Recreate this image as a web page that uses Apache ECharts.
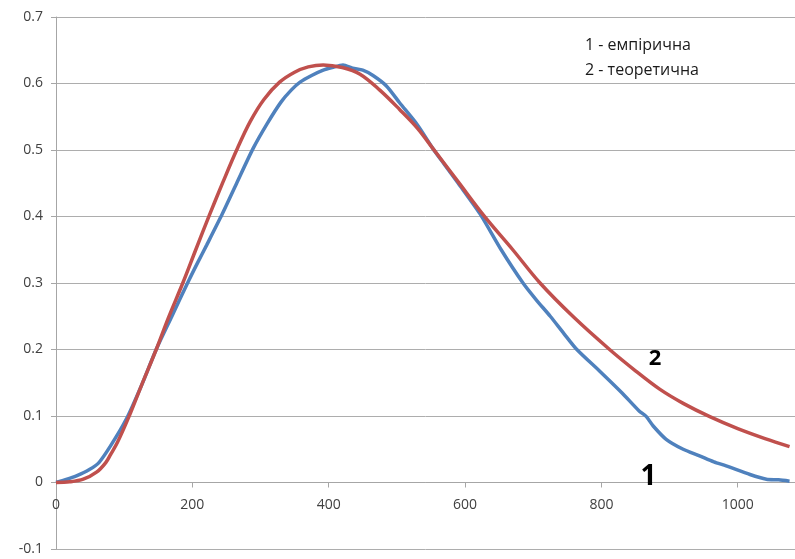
<!DOCTYPE html>
<html>
<head>
<meta charset="utf-8">
<script src="https://cdn.jsdelivr.net/npm/echarts@6/dist/echarts.min.js"></script>
<style>
html,body{margin:0;padding:0;background:#fff;}
#chart{width:795px;height:559px;}
</style>
</head>
<body>
<div id="chart"></div>
<script>
// Empirical curve (1)
const empX = [0,15,30,49,63,80,103,125,147,170,193,208,221,244,265,289,310,330,345,358,375,392,405,421,435,450,465,485,504,530,553,570,590,622,653,685,705,725,745,764,798,830,855,866,876,895,920,944,965,983,1018,1042,1060,1076];
const empY = [0,0.0045,0.010,0.0195,0.030,0.055,0.095,0.145,0.200,0.250,0.300,0.331,0.357,0.404,0.450,0.502,0.540,0.572,0.590,0.602,0.612,0.620,0.624,0.628,0.623,0.620,0.612,0.596,0.571,0.538,0.502,0.478,0.450,0.404,0.350,0.300,0.274,0.250,0.224,0.200,0.167,0.135,0.108,0.099,0.085,0.065,0.050,0.040,0.031,0.025,0.012,0.005,0.004,0.002];
// Theoretical curve (2)
const theoX = [0,20,40,60,73,80,90,107,125,147,165,186,205,225,245,265,285,305,328,350,370,392,420,446,475,504,530,553,590,627,670,710,760,812,850,886,920,959,1000,1040,1076];
const theoY = [0,0.001,0.005,0.016,0.030,0.042,0.060,0.099,0.145,0.200,0.248,0.300,0.350,0.402,0.452,0.500,0.543,0.576,0.602,0.617,0.625,0.628,0.624,0.614,0.590,0.561,0.533,0.502,0.452,0.402,0.350,0.300,0.248,0.200,0.168,0.140,0.119,0.099,0.081,0.066,0.054];
const yTicks = [-0.1,0,0.1,0.2,0.3,0.4,0.5,0.6,0.7];
const xTicks = [0,200,400,600,800,1000];
const legendLines = ['1 - емпірична','2 - теоретична'];
const curveLabels = ['1','2'];

const pair = (xs, ys) => xs.map((x, i) => [x, ys[i]]);
const font = "'Open Sans', 'Liberation Sans', sans-serif";
const axisGray = '#a6a6a6';

const W = 795, H = 559, gTop = 17, gBottom = 10;
const yMin = yTicks[0], yMax = yTicks[yTicks.length - 1];
// place the x axis on the y = 0 line (distance from grid bottom)
const zeroOffset = -(H - gTop - gBottom) * (0 - yMin) / (yMax - yMin);

const chart = echarts.init(document.getElementById('chart'));
chart.setOption({
  animation: false,
  backgroundColor: '#fff',
  grid: {left: 56, right: 0, top: gTop, bottom: gBottom, containLabel: false, outerBoundsMode: 'none'},
  xAxis: {
    type: 'value', min: 0, max: 1084, interval: 200, position: 'bottom', offset: zeroOffset,
    axisLine: {show: true, onZero: false, lineStyle: {color: axisGray, width: 1}},
    axisTick: {show: true, length: 5, lineStyle: {color: axisGray}},
    axisLabel: {margin: 16, fontSize: 14, color: '#404040', fontFamily: font, showMaxLabel: false,
      formatter: v => xTicks.includes(v) ? String(v) : ''},
    splitLine: {show: false}
  },
  yAxis: {
    type: 'value', min: yMin, max: yMax, interval: 0.1,
    axisLine: {show: true, onZero: false, lineStyle: {color: axisGray, width: 1}},
    axisTick: {show: true, length: 5, lineStyle: {color: axisGray}},
    axisLabel: {margin: 13, fontSize: 14, color: '#404040', fontFamily: font,
      formatter: v => String(+v.toFixed(1))},
    splitLine: {show: true, lineStyle: {color: '#adadad', width: 1}}
  },
  series: [
    {type: 'line', data: pair(empX, empY), showSymbol: false, smooth: 0.25,
      lineStyle: {color: '#4f81bd', width: 3.5}, z: 2},
    {type: 'line', data: pair(theoX, theoY), showSymbol: false, smooth: 0.35,
      lineStyle: {color: '#c0504d', width: 3.5}, z: 3}
  ],
  graphic: [
    {type: 'text', x: 585, y: 45, z: 100, style: {text: legendLines[0], font: '16px ' + font, fill: '#1a1a1a', textVerticalAlign: 'middle'}},
    {type: 'text', x: 585, y: 70, z: 100, style: {text: legendLines[1], font: '16px ' + font, fill: '#1a1a1a', textVerticalAlign: 'middle'}},
    {type: 'text', x: 648.5, y: 477, z: 100, style: {text: curveLabels[0], font: 'bold 28px ' + font, fill: '#000', textAlign: 'center', textVerticalAlign: 'middle'}},
    {type: 'text', x: 655, y: 358.5, z: 100, style: {text: curveLabels[1], font: 'bold 22px ' + font, fill: '#000', textAlign: 'center', textVerticalAlign: 'middle'}}
  ]
});
</script>
</body>
</html>
